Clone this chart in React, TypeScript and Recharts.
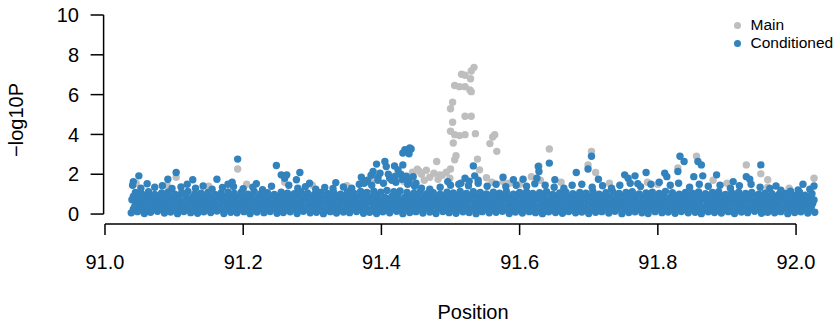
import { ScatterChart, Scatter, XAxis, YAxis, ReferenceLine, Legend } from 'recharts';

const FONT = '"Liberation Sans", Arial, Helvetica, sans-serif';
const BLUE = '#3182bd';
const GREY = '#bebebe';

const xTicks = [91, 91.2, 91.4, 91.6, 91.8, 92];
const yTicks = [0, 2, 4, 6, 8, 10];
const legendOrder = ['Main', 'Conditioned'];

// Main (unconditioned) results – only the points that show above the blue cloud
const mainPeak: [number, number][] = [
  [91.534, 7.37], [91.53, 7.19], [91.516, 7.02], [91.521, 6.97], [91.529, 6.8],
  [91.506, 6.46], [91.513, 6.4], [91.521, 6.4], [91.528, 6.23], [91.53, 6.15],
  [91.503, 5.62], [91.5, 5.29], [91.521, 4.91], [91.53, 4.91], [91.503, 4.61],
  [91.5, 4.16], [91.506, 3.99], [91.513, 3.94], [91.521, 3.99], [91.536, 4.04],
  [91.504, 3.57], [91.564, 3.99], [91.561, 3.87], [91.557, 3.54], [91.567, 3.15],
  [91.508, 2.93], [91.506, 2.73], [91.539, 2.76], [91.48, 2.64], [91.5, 2.26],
  [91.542, 2.22], [91.552, 1.82], [91.576, 1.63], [91.617, 1.88], [91.56, 1.6],
  [91.585, 1.55], [91.6, 1.5],
];
const mainCluster: [number, number][] = [
  [91.445, 2.1], [91.452, 2.25], [91.458, 2.0], [91.465, 2.2], [91.47, 1.85],
  [91.476, 2.05], [91.482, 1.75], [91.488, 1.95], [91.494, 2.1], [91.499, 1.8],
  [91.44, 1.8], [91.432, 1.65], [91.462, 1.7], [91.455, 2.14], [91.484, 1.97],
];
const mainOther: [number, number][] = [
  [91.045, 1.55], [91.09, 1.45], [91.103, 1.85], [91.15, 1.4], [91.192, 2.26],
  [91.205, 1.5], [91.26, 1.6], [91.3, 1.45], [91.35, 1.42], [91.372, 1.6],
  [91.39, 1.75], [91.628, 2.42], [91.643, 3.27], [91.63, 1.7], [91.66, 1.6],
  [91.699, 2.47], [91.704, 3.15], [91.71, 2.09], [91.73, 1.55], [91.785, 1.6],
  [91.8, 1.5], [91.829, 2.31], [91.856, 2.9], [91.88, 1.7], [91.9, 1.55],
  [91.928, 2.47], [91.949, 2.02], [91.959, 1.72], [91.959, 1.35], [91.99, 1.3],
  [92.026, 1.8],
];

// Conditioned results – dense cloud near zero plus the tallest points
const condRowA: [number, number][] = [
  [91.038, 0.06], [91.047, 0.12], [91.057, 0.03], [91.066, 0.09], [91.076, 0.14], [91.086, 0.05], [91.095, 0.1], [91.105, 0.02], [91.114, 0.13], [91.124, 0.07],
  [91.134, 0.04], [91.143, 0.11], [91.153, 0.08], [91.162, 0.15], [91.172, 0.03], [91.182, 0.09], [91.191, 0.06], [91.201, 0.12], [91.21, 0.02], [91.22, 0.1],
  [91.23, 0.07], [91.239, 0.13], [91.249, 0.04], [91.258, 0.08], [91.268, 0.11], [91.278, 0.03], [91.287, 0.14], [91.297, 0.06], [91.306, 0.09], [91.316, 0.02],
  [91.326, 0.12], [91.335, 0.05], [91.345, 0.1], [91.354, 0.07], [91.364, 0.13], [91.374, 0.04], [91.383, 0.09], [91.393, 0.03], [91.402, 0.11], [91.412, 0.06],
  [91.422, 0.14], [91.431, 0.02], [91.441, 0.08], [91.45, 0.12], [91.46, 0.05], [91.47, 0.1], [91.479, 0.03], [91.489, 0.13], [91.498, 0.07], [91.508, 0.04],
  [91.518, 0.11], [91.527, 0.08], [91.537, 0.02], [91.546, 0.12], [91.556, 0.06], [91.566, 0.09], [91.575, 0.14], [91.585, 0.03], [91.594, 0.1], [91.604, 0.05],
  [91.614, 0.12], [91.623, 0.07], [91.633, 0.02], [91.642, 0.11], [91.652, 0.08], [91.662, 0.04], [91.671, 0.13], [91.681, 0.06], [91.69, 0.1], [91.7, 0.03],
  [91.71, 0.09], [91.719, 0.12], [91.729, 0.05], [91.738, 0.14], [91.748, 0.02], [91.758, 0.08], [91.767, 0.11], [91.777, 0.06], [91.786, 0.03], [91.796, 0.12],
  [91.806, 0.07], [91.815, 0.1], [91.825, 0.04], [91.834, 0.13], [91.844, 0.06], [91.854, 0.09], [91.863, 0.02], [91.873, 0.11], [91.882, 0.08], [91.892, 0.05],
  [91.902, 0.12], [91.911, 0.03], [91.921, 0.1], [91.93, 0.07], [91.94, 0.14], [91.95, 0.04], [91.959, 0.09], [91.969, 0.06], [91.978, 0.12], [91.988, 0.02],
  [91.998, 0.08], [92.007, 0.11], [92.017, 0.05], [92.027, 0.09],
];
const condRowA2: [number, number][] = [
  [91.041, 0.24], [91.05, 0.2], [91.06, 0.28], [91.069, 0.22], [91.079, 0.26], [91.088, 0.21], [91.098, 0.29], [91.107, 0.23], [91.117, 0.27], [91.127, 0.2],
  [91.136, 0.25], [91.146, 0.22], [91.155, 0.28], [91.165, 0.24], [91.175, 0.21], [91.184, 0.27], [91.194, 0.23], [91.203, 0.29], [91.213, 0.2], [91.223, 0.26],
  [91.232, 0.22], [91.242, 0.28], [91.251, 0.24], [91.261, 0.21], [91.271, 0.27], [91.28, 0.23], [91.29, 0.25], [91.299, 0.2], [91.309, 0.28], [91.319, 0.22],
  [91.328, 0.26], [91.338, 0.24], [91.347, 0.21], [91.357, 0.29], [91.367, 0.23], [91.376, 0.27], [91.386, 0.2], [91.395, 0.25], [91.405, 0.22], [91.415, 0.28],
  [91.424, 0.24], [91.434, 0.21], [91.443, 0.27], [91.453, 0.23], [91.463, 0.29], [91.472, 0.2], [91.482, 0.26], [91.491, 0.22], [91.501, 0.28], [91.511, 0.24],
  [91.52, 0.21], [91.53, 0.27], [91.539, 0.23], [91.549, 0.25], [91.559, 0.2], [91.568, 0.28], [91.578, 0.22], [91.587, 0.26], [91.597, 0.24], [91.607, 0.21],
  [91.616, 0.29], [91.626, 0.23], [91.635, 0.27], [91.645, 0.2], [91.655, 0.25], [91.664, 0.22], [91.674, 0.28], [91.683, 0.24], [91.693, 0.21], [91.703, 0.27],
  [91.712, 0.23], [91.722, 0.29], [91.731, 0.2], [91.741, 0.26], [91.751, 0.22], [91.76, 0.28], [91.77, 0.24], [91.779, 0.21], [91.789, 0.27], [91.799, 0.23],
  [91.808, 0.25], [91.818, 0.2], [91.827, 0.28], [91.837, 0.22], [91.847, 0.26], [91.856, 0.24], [91.866, 0.21], [91.875, 0.29], [91.885, 0.23], [91.895, 0.27],
  [91.904, 0.2], [91.914, 0.25], [91.923, 0.22], [91.933, 0.28], [91.943, 0.24], [91.952, 0.21], [91.962, 0.27], [91.971, 0.23], [91.981, 0.29], [91.991, 0.2],
  [92.0, 0.26], [92.01, 0.22], [92.02, 0.28],
];
const condRowB: [number, number][] = [
  [91.043, 0.38], [91.052, 0.42], [91.062, 0.35], [91.071, 0.44], [91.081, 0.37], [91.09, 0.4], [91.1, 0.33], [91.11, 0.43], [91.119, 0.36], [91.129, 0.41],
  [91.138, 0.34], [91.148, 0.45], [91.158, 0.38], [91.167, 0.35], [91.177, 0.42], [91.186, 0.37], [91.196, 0.44], [91.206, 0.33], [91.215, 0.4], [91.225, 0.36],
  [91.234, 0.43], [91.244, 0.38], [91.254, 0.34], [91.263, 0.41], [91.273, 0.37], [91.282, 0.45], [91.292, 0.35], [91.302, 0.39], [91.311, 0.42], [91.321, 0.34],
  [91.33, 0.4], [91.34, 0.37], [91.35, 0.44], [91.359, 0.36], [91.369, 0.41], [91.378, 0.33], [91.388, 0.43], [91.398, 0.38], [91.407, 0.35], [91.417, 0.42],
  [91.426, 0.37], [91.436, 0.44], [91.446, 0.34], [91.455, 0.4], [91.465, 0.36], [91.474, 0.43], [91.484, 0.38], [91.494, 0.35], [91.503, 0.41], [91.513, 0.37],
  [91.522, 0.44], [91.532, 0.33], [91.542, 0.39], [91.551, 0.42], [91.561, 0.36], [91.57, 0.4], [91.58, 0.34], [91.59, 0.43], [91.599, 0.38], [91.609, 0.35],
  [91.618, 0.41], [91.628, 0.37], [91.638, 0.44], [91.647, 0.34], [91.657, 0.4], [91.666, 0.36], [91.676, 0.42], [91.686, 0.38], [91.695, 0.33], [91.705, 0.41],
  [91.714, 0.37], [91.724, 0.44], [91.734, 0.35], [91.743, 0.4], [91.753, 0.38], [91.762, 0.34], [91.772, 0.43], [91.782, 0.36], [91.791, 0.41], [91.801, 0.37],
  [91.81, 0.44], [91.82, 0.33], [91.83, 0.39], [91.839, 0.42], [91.849, 0.36], [91.858, 0.4], [91.868, 0.35], [91.878, 0.43], [91.887, 0.38], [91.897, 0.34],
  [91.906, 0.41], [91.916, 0.37], [91.926, 0.44], [91.935, 0.35], [91.945, 0.4], [91.954, 0.36], [91.964, 0.42], [91.974, 0.38], [91.983, 0.33], [91.993, 0.41],
  [92.002, 0.37], [92.012, 0.43], [92.022, 0.36],
];
const condRowB2: [number, number][] = [
  [91.045, 0.56], [91.055, 0.6], [91.064, 0.53], [91.074, 0.58], [91.083, 0.62], [91.093, 0.55], [91.103, 0.59], [91.112, 0.52], [91.122, 0.57], [91.131, 0.61],
  [91.141, 0.54], [91.151, 0.58], [91.16, 0.56], [91.17, 0.62], [91.179, 0.53], [91.189, 0.59], [91.199, 0.55], [91.208, 0.6], [91.218, 0.52], [91.227, 0.57],
  [91.237, 0.61], [91.247, 0.54], [91.256, 0.58], [91.266, 0.56], [91.275, 0.62], [91.285, 0.53], [91.295, 0.59], [91.304, 0.55], [91.314, 0.6], [91.323, 0.52],
  [91.333, 0.57], [91.343, 0.61], [91.352, 0.54], [91.362, 0.58], [91.371, 0.56], [91.381, 0.62], [91.391, 0.53], [91.4, 0.59], [91.41, 0.55], [91.419, 0.6],
  [91.429, 0.52], [91.439, 0.57], [91.448, 0.61], [91.458, 0.54], [91.467, 0.58], [91.477, 0.56], [91.487, 0.62], [91.496, 0.53], [91.506, 0.59], [91.515, 0.55],
  [91.525, 0.6], [91.535, 0.52], [91.544, 0.57], [91.554, 0.61], [91.563, 0.54], [91.573, 0.58], [91.583, 0.56], [91.592, 0.62], [91.602, 0.53], [91.611, 0.59],
  [91.621, 0.55], [91.631, 0.6], [91.64, 0.52], [91.65, 0.57], [91.659, 0.61], [91.669, 0.54], [91.679, 0.58], [91.688, 0.56], [91.698, 0.62], [91.707, 0.53],
  [91.717, 0.59], [91.727, 0.55], [91.736, 0.6], [91.746, 0.52], [91.755, 0.57], [91.765, 0.61], [91.775, 0.54], [91.784, 0.58], [91.794, 0.56], [91.803, 0.62],
  [91.813, 0.53], [91.823, 0.59], [91.832, 0.55], [91.842, 0.6], [91.851, 0.52], [91.861, 0.57], [91.871, 0.61], [91.88, 0.54], [91.89, 0.58], [91.899, 0.56],
  [91.909, 0.62], [91.919, 0.53], [91.928, 0.59], [91.938, 0.55], [91.947, 0.6], [91.957, 0.52], [91.967, 0.57], [91.976, 0.61], [91.986, 0.54], [91.995, 0.58],
  [92.005, 0.56], [92.015, 0.6], [92.024, 0.53],
];
const condRowC: [number, number][] = [
  [91.039, 0.72], [91.048, 0.68], [91.058, 0.76], [91.067, 0.7], [91.077, 0.66], [91.087, 0.74], [91.096, 0.69], [91.106, 0.78], [91.115, 0.65], [91.125, 0.73],
  [91.135, 0.7], [91.144, 0.77], [91.154, 0.67], [91.163, 0.72], [91.173, 0.75], [91.183, 0.68], [91.192, 0.71], [91.202, 0.79], [91.211, 0.66], [91.221, 0.73],
  [91.231, 0.69], [91.24, 0.76], [91.25, 0.7], [91.259, 0.67], [91.269, 0.74], [91.279, 0.71], [91.288, 0.78], [91.298, 0.65], [91.307, 0.72], [91.317, 0.69],
  [91.327, 0.75], [91.336, 0.68], [91.346, 0.73], [91.355, 0.7], [91.365, 0.77], [91.375, 0.66], [91.384, 0.72], [91.394, 0.79], [91.403, 0.69], [91.413, 0.74],
  [91.423, 0.67], [91.432, 0.71], [91.442, 0.76], [91.451, 0.68], [91.461, 0.73], [91.471, 0.7], [91.48, 0.78], [91.49, 0.65], [91.499, 0.72], [91.509, 0.75],
  [91.519, 0.69], [91.528, 0.74], [91.538, 0.67], [91.547, 0.71], [91.557, 0.77], [91.567, 0.7], [91.576, 0.73], [91.586, 0.66], [91.595, 0.75], [91.605, 0.69],
  [91.615, 0.72], [91.624, 0.78], [91.634, 0.68], [91.643, 0.71], [91.653, 0.74], [91.663, 0.67], [91.672, 0.76], [91.682, 0.7], [91.691, 0.73], [91.701, 0.69],
  [91.711, 0.77], [91.72, 0.66], [91.73, 0.72], [91.739, 0.75], [91.749, 0.68], [91.759, 0.71], [91.768, 0.79], [91.778, 0.67], [91.787, 0.73], [91.797, 0.7],
  [91.807, 0.76], [91.816, 0.68], [91.826, 0.72], [91.835, 0.74], [91.845, 0.69], [91.855, 0.71], [91.864, 0.77], [91.874, 0.66], [91.883, 0.73], [91.893, 0.7],
  [91.903, 0.75], [91.912, 0.68], [91.922, 0.72], [91.931, 0.78], [91.941, 0.67], [91.951, 0.71], [91.96, 0.74], [91.97, 0.69], [91.979, 0.73], [91.989, 0.66],
  [91.999, 0.72], [92.008, 0.75], [92.018, 0.68], [92.026, 0.71],
];
const condRowC2: [number, number][] = [
  [91.041, 0.88], [91.05, 0.85], [91.06, 0.91], [91.069, 0.87], [91.079, 0.9], [91.088, 0.84], [91.098, 0.89], [91.107, 0.86], [91.117, 0.92], [91.127, 0.85],
  [91.136, 0.88], [91.146, 0.9], [91.155, 0.84], [91.165, 0.89], [91.175, 0.87], [91.184, 0.91], [91.194, 0.85], [91.203, 0.88], [91.213, 0.9], [91.223, 0.86],
  [91.232, 0.92], [91.242, 0.84], [91.251, 0.88], [91.261, 0.87], [91.271, 0.91], [91.28, 0.85], [91.29, 0.89], [91.299, 0.86], [91.309, 0.9], [91.319, 0.84],
  [91.328, 0.88], [91.338, 0.92], [91.347, 0.85], [91.357, 0.89], [91.367, 0.87], [91.376, 0.91], [91.386, 0.86], [91.395, 0.9], [91.405, 0.84], [91.415, 0.88],
  [91.424, 0.92], [91.434, 0.85], [91.443, 0.89], [91.453, 0.87], [91.463, 0.91], [91.472, 0.84], [91.482, 0.88], [91.491, 0.9], [91.501, 0.86], [91.511, 0.92],
  [91.52, 0.85], [91.53, 0.89], [91.539, 0.87], [91.549, 0.91], [91.559, 0.84], [91.568, 0.88], [91.578, 0.9], [91.587, 0.86], [91.597, 0.92], [91.607, 0.85],
  [91.616, 0.89], [91.626, 0.87], [91.635, 0.91], [91.645, 0.84], [91.655, 0.88], [91.664, 0.9], [91.674, 0.86], [91.683, 0.92], [91.693, 0.85], [91.703, 0.89],
  [91.712, 0.87], [91.722, 0.91], [91.731, 0.84], [91.741, 0.88], [91.751, 0.9], [91.76, 0.86], [91.77, 0.92], [91.779, 0.85], [91.789, 0.89], [91.799, 0.87],
  [91.808, 0.91], [91.818, 0.84], [91.827, 0.88], [91.837, 0.9], [91.847, 0.86], [91.856, 0.92], [91.866, 0.85], [91.875, 0.89], [91.885, 0.87], [91.895, 0.91],
  [91.904, 0.84], [91.914, 0.88], [91.923, 0.9], [91.933, 0.86], [91.943, 0.92], [91.952, 0.85], [91.962, 0.89], [91.971, 0.87], [91.981, 0.84], [91.991, 0.88],
  [92.0, 0.86], [92.01, 0.82], [92.02, 0.87],
];
const condRowD: [number, number][] = [
  [91.044, 1.08], [91.053, 1.02], [91.063, 1.12], [91.072, 0.99], [91.082, 1.06], [91.091, 1.1], [91.101, 1.0], [91.111, 1.07], [91.12, 1.13], [91.13, 1.01],
  [91.139, 1.05], [91.149, 1.09], [91.159, 0.98], [91.168, 1.06], [91.178, 1.11], [91.187, 1.03], [91.197, 1.08], [91.207, 1.0], [91.216, 1.12], [91.226, 1.04],
  [91.235, 1.07], [91.245, 0.99], [91.255, 1.1], [91.264, 1.05], [91.274, 1.02], [91.283, 1.13], [91.293, 1.06], [91.303, 0.98], [91.312, 1.09], [91.322, 1.03],
  [91.331, 1.07], [91.341, 1.0], [91.351, 1.11], [91.36, 1.05], [91.37, 1.14], [91.379, 1.08], [91.389, 1.15], [91.399, 1.1], [91.408, 1.18], [91.418, 1.12],
  [91.427, 1.16], [91.437, 1.09], [91.447, 1.05], [91.456, 1.11], [91.466, 1.02], [91.475, 1.07], [91.485, 1.0], [91.495, 1.1], [91.504, 1.06], [91.514, 1.13],
  [91.523, 1.04], [91.533, 1.12], [91.543, 1.08], [91.552, 1.01], [91.562, 1.1], [91.571, 1.05], [91.581, 1.13], [91.591, 1.0], [91.6, 1.08], [91.61, 1.11],
  [91.619, 1.03], [91.629, 1.07], [91.639, 1.12], [91.648, 0.99], [91.658, 1.06], [91.667, 1.1], [91.677, 1.02], [91.687, 1.09], [91.696, 1.05], [91.706, 1.13],
  [91.715, 1.0], [91.725, 1.07], [91.735, 1.11], [91.744, 1.04], [91.754, 1.08], [91.763, 1.12], [91.773, 1.01], [91.783, 1.06], [91.792, 1.1], [91.802, 1.03],
  [91.811, 1.13], [91.821, 1.07], [91.831, 1.0], [91.84, 1.09], [91.85, 1.05], [91.859, 1.11], [91.869, 1.02], [91.879, 1.08], [91.888, 1.12], [91.898, 0.99],
  [91.907, 1.06], [91.917, 1.1], [91.927, 1.03], [91.936, 1.08], [91.946, 1.0], [91.955, 1.05], [91.965, 1.02], [91.975, 0.98], [91.984, 1.04], [91.994, 0.97],
  [92.003, 1.0], [92.013, 0.95], [92.023, 1.02],
];
const condRowE: [number, number][] = [
  [91.04, 1.45], [91.052, 1.3], [91.061, 1.52], [91.072, 1.35], [91.083, 1.42], [91.097, 1.28], [91.11, 1.36], [91.131, 1.3], [91.142, 1.41], [91.155, 1.25],
  [91.17, 1.33], [91.186, 1.38], [91.2, 1.27], [91.214, 1.35], [91.228, 1.22], [91.241, 1.4], [91.266, 1.45], [91.279, 1.3], [91.29, 1.38], [91.305, 1.25],
  [91.318, 1.33], [91.33, 1.28], [91.345, 1.36], [91.357, 1.3], [91.368, 1.5], [91.378, 1.62], [91.386, 1.45], [91.395, 1.7], [91.403, 1.55], [91.412, 1.8],
  [91.421, 1.6], [91.43, 1.75], [91.438, 1.5], [91.448, 1.4], [91.458, 1.3], [91.47, 1.25], [91.485, 1.35], [91.5, 1.45], [91.512, 1.5], [91.526, 1.42],
  [91.54, 1.55], [91.553, 1.4], [91.566, 1.5], [91.58, 1.38], [91.595, 1.45], [91.61, 1.4], [91.622, 1.52], [91.637, 1.45], [91.65, 1.35], [91.664, 1.3],
  [91.676, 1.45], [91.69, 1.5], [91.705, 1.35], [91.72, 1.42], [91.733, 1.3], [91.745, 1.45], [91.76, 1.55], [91.775, 1.38], [91.79, 1.5], [91.802, 1.6],
  [91.818, 1.45], [91.83, 1.55], [91.846, 1.35], [91.86, 1.5], [91.873, 1.4], [91.89, 1.45], [91.905, 1.3], [91.918, 1.42], [91.935, 1.5], [91.948, 1.35],
  [91.962, 1.28], [91.978, 1.2], [91.992, 1.15], [92.005, 1.1], [92.02, 1.25],
];
const condHigh: [number, number][] = [
  [91.049, 1.92], [91.041, 1.63], [91.103, 2.09], [91.091, 1.75], [91.119, 1.5], [91.127, 1.72], [91.162, 1.75], [91.178, 1.5], [91.184, 1.6], [91.192, 2.76],
  [91.219, 1.52], [91.248, 2.44], [91.255, 1.97], [91.263, 1.97], [91.26, 1.8], [91.282, 2.09], [91.277, 1.72], [91.296, 1.55], [91.334, 1.58], [91.371, 1.85],
  [91.393, 2.51], [91.405, 2.64], [91.407, 2.39], [91.388, 2.14], [91.398, 2.05], [91.419, 2.42], [91.424, 2.22], [91.38, 1.7], [91.385, 1.95], [91.395, 1.85],
  [91.41, 2.0], [91.415, 1.7], [91.42, 1.9], [91.375, 1.55], [91.428, 2.0], [91.436, 1.9], [91.44, 1.65], [91.45, 1.55],
  [91.441, 3.32], [91.434, 3.23], [91.431, 3.07], [91.44, 3.03], [91.443, 3.27], [91.431, 2.47], [91.446, 1.88], [91.533, 2.42], [91.496, 1.63], [91.521, 1.8],
  [91.535, 1.92], [91.527, 1.65], [91.54, 1.7], [91.515, 1.55], [91.576, 1.85], [91.591, 1.72], [91.605, 1.75], [91.627, 2.39],
  [91.643, 2.56], [91.628, 2.14], [91.625, 1.8], [91.651, 1.72], [91.704, 2.9], [91.699, 2.26], [91.682, 2.09], [91.714, 1.75], [91.752, 1.97], [91.757, 1.8],
  [91.767, 1.92], [91.771, 1.52], [91.783, 2.09], [91.81, 2.05], [91.813, 1.88], [91.829, 2.14], [91.832, 2.9], [91.838, 2.64], [91.858, 2.64], [91.863, 2.47],
  [91.852, 1.88], [91.865, 1.92], [91.885, 1.97], [91.909, 1.63], [91.928, 1.88], [91.933, 1.75], [91.949, 2.47], [91.971, 1.41], [92.003, 1.21], [92.01, 1.5],
  [92.026, 1.41],
];

const toPoints = (rows: [number, number][][]) =>
  rows.flat().map(([x, y]) => ({ x, y }));

const mainData = toPoints([mainOther, mainCluster, mainPeak]);
const condData = toPoints([
  condRowA, condRowA2, condRowB, condRowB2, condRowC, condRowC2, condRowD, condRowE, condHigh,
]);

const dot = (color: string) => (props: any) => (
  <circle cx={props.cx} cy={props.cy} r={3.7} fill={color} />
);

function LegendBox({ payload }: any) {
  const items = [...(payload || [])].sort(
    (a: any, b: any) => legendOrder.indexOf(a.value) - legendOrder.indexOf(b.value),
  );
  return (
    <div style={{ fontFamily: FONT, fontSize: 15.5, color: '#000' }}>
      {items.map((p: any) => (
        <div key={p.value} style={{ display: 'flex', alignItems: 'center', height: 18.3 }}>
          <span
            style={{
              display: 'inline-block',
              width: 7,
              height: 7,
              borderRadius: '50%',
              background: p.color,
              marginRight: 9.5,
            }}
          />
          <span>{p.value}</span>
        </div>
      ))}
    </div>
  );
}

export default function App() {
  const tickStyle = { fontSize: 20, fill: '#000', fontFamily: FONT };
  return (
    <div style={{ position: 'absolute', left: 0, top: 0, background: '#fff' }}>
      <ScatterChart width={840} height={323} margin={{ top: 7.04, right: 9.4, bottom: 39, left: 0 }}>
        <XAxis
          type="number"
          dataKey="x"
          domain={[90.998, 92.05]}
          allowDataOverflow
          ticks={xTicks}
          tickFormatter={(v: number) => v.toFixed(1)}
          axisLine={false}
          stroke="#000"
          tickLine={{ stroke: '#000', strokeWidth: 1.5 }}
          tickSize={11}
          tickMargin={20}
          tick={tickStyle}
          height={60}
          label={{
            content: () => (
              <text x={473} y={319} textAnchor="middle" fontSize={20} fontFamily={FONT} fill="#000">
                Position
              </text>
            ),
          }}
        />
        <YAxis
          type="number"
          dataKey="y"
          domain={[-0.5, 10.4]}
          allowDataOverflow
          ticks={yTicks}
          axisLine={false}
          stroke="#000"
          tickLine={{ stroke: '#000', strokeWidth: 1.5 }}
          tickSize={13}
          tickMargin={11.6}
          tick={tickStyle}
          width={103.6}
          label={{
            content: () => (
              <text
                x={23}
                y={120}
                transform="rotate(-90 23 120)"
                textAnchor="middle"
                fontSize={20}
                fontFamily={FONT}
                fill="#000"
              >
                −log10P
              </text>
            ),
          }}
        />
        <ReferenceLine
          segment={[{ x: 91, y: -0.5 }, { x: 92, y: -0.5 }]}
          stroke="#000"
          strokeWidth={1.5}
          ifOverflow="visible"
        />
        <ReferenceLine
          segment={[{ x: 90.998, y: 0 }, { x: 90.998, y: 10 }]}
          stroke="#000"
          strokeWidth={1.5}
          ifOverflow="visible"
        />
        <Legend
          layout="vertical"
          align="center"
          verticalAlign="middle"
          wrapperStyle={{ left: 734, top: 16, width: 'auto', height: 'auto' }}
          content={<LegendBox />}
        />
        <Scatter name="Main" data={mainData} fill={GREY} shape={dot(GREY)} isAnimationActive={false} />
        <Scatter name="Conditioned" data={condData} fill={BLUE} shape={dot(BLUE)} isAnimationActive={false} />
      </ScatterChart>
    </div>
  );
}
